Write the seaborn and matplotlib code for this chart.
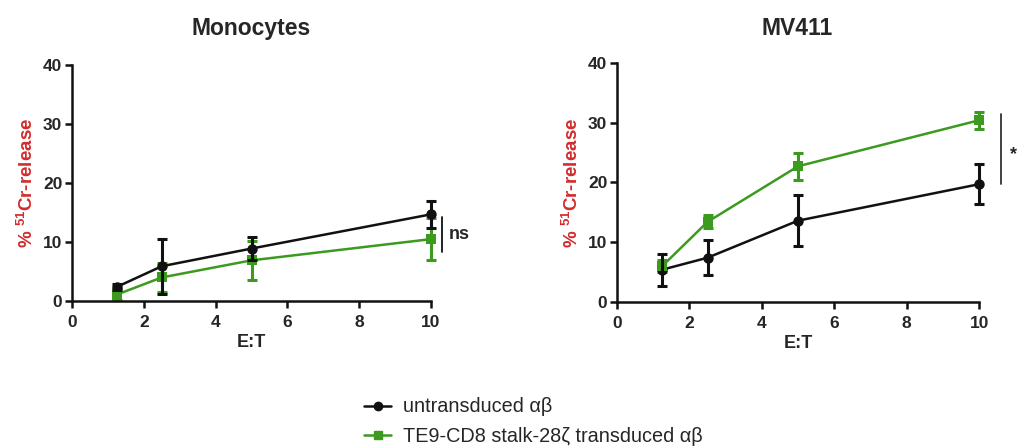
import numpy as np
import pandas as pd
import matplotlib
matplotlib.use("Agg")
import matplotlib.pyplot as plt
import seaborn as sns
from matplotlib.lines import Line2D

# E:T ratios
et_ratio = [1.25, 2.5, 5, 10]

# Monocytes
mono_untrans = [2.4, 5.9, 8.9, 14.7]
mono_untrans_sd = [0.5, 4.7, 2.0, 2.3]
mono_te9 = [1.1, 4.0, 6.9, 10.5]
mono_te9_sd = [1.0, 2.5, 3.3, 3.6]

# MV411
mv_untrans = [5.4, 7.4, 13.6, 19.7]
mv_untrans_sd = [2.7, 2.9, 4.3, 3.3]
mv_te9 = [6.0, 13.4, 22.7, 30.4]
mv_te9_sd = [1.0, 1.1, 2.3, 1.4]

group_names = ["untransduced αβ", "TE9-CD8 stalk-28ζ transduced αβ"]
panel_titles = ["Monocytes", "MV411"]
sig_labels = ["ns", "*"]

BLACK = "#111111"
GREEN = "#3c9a1e"
RED = "#d42b2b"

sns.set_style("ticks")
plt.rcParams['font.family'] = ['Liberation Sans', 'DejaVu Sans']
plt.rcParams['mathtext.default'] = 'regular'


def make_df(untrans, te9):
    return pd.DataFrame({
        "E:T": et_ratio * 2,
        "release": untrans + te9,
        "group": [group_names[0]] * 4 + [group_names[1]] * 4,
    })


def draw_panel(ax, untrans, untrans_sd, te9, te9_sd):
    df = make_df(untrans, te9)
    sns.lineplot(data=df, x="E:T", y="release", hue="group", style="group",
                 markers={group_names[0]: "o", group_names[1]: "s"}, dashes=False,
                 palette={group_names[0]: BLACK, group_names[1]: GREEN},
                 markersize=7.5, linewidth=1.8, markeredgewidth=0,
                 legend=False, ax=ax, zorder=3, clip_on=False)
    ax.errorbar(et_ratio, te9, yerr=te9_sd, fmt="none", ecolor=GREEN,
                elinewidth=2.2, capsize=3.5, capthick=2.2, zorder=2, clip_on=False)
    ax.errorbar(et_ratio, untrans, yerr=untrans_sd, fmt="none", ecolor=BLACK,
                elinewidth=2.2, capsize=3.5, capthick=2.2, zorder=4, clip_on=False)
    ax.set_xlim(0, 10)
    ax.set_ylim(0, 40)
    ax.set_xticks([0, 2, 4, 6, 8, 10])
    ax.set_yticks([0, 10, 20, 30, 40])
    for lbl in ax.get_xticklabels() + ax.get_yticklabels():
        lbl.set_fontweight("bold")
        lbl.set_fontsize(12.5)
    ax.tick_params(width=1.8, length=5, color=BLACK, pad=2)
    ax.tick_params(axis="x", pad=5)
    ax.set_xlabel("E:T", fontsize=13, fontweight="bold", labelpad=3)
    ax.set_ylabel("% $^{51}$Cr-release", fontsize=13.5, fontweight="bold", color=RED, labelpad=4)
    for side in ["left", "bottom"]:
        ax.spines[side].set_linewidth(1.8)
        ax.spines[side].set_color(BLACK)
    sns.despine(ax=ax)
    for coll in ax.collections + ax.lines:
        coll.set_clip_on(False)


fig = plt.figure(figsize=(10.17, 4.46), dpi=100)
ax1 = fig.add_axes([0.0708, 0.325, 0.353, 0.529])
ax2 = fig.add_axes([0.6067, 0.323, 0.356, 0.536])

draw_panel(ax1, mono_untrans, mono_untrans_sd, mono_te9, mono_te9_sd)
draw_panel(ax2, mv_untrans, mv_untrans_sd, mv_te9, mv_te9_sd)

fig.text(0.247, 0.935, panel_titles[0], fontsize=16.5, fontweight="bold", ha="center", va="center")
fig.text(0.784, 0.935, panel_titles[1], fontsize=16.5, fontweight="bold", ha="center", va="center")

# significance brackets
ax1.plot([10.3, 10.3], [8.3, 14.3], color=BLACK, lw=1.3, clip_on=False)
ax1.text(10.5, 11.2, sig_labels[0], fontsize=13, fontweight="bold", va="center", ha="left")
ax2.plot([10.6, 10.6], [19.8, 31.5], color="#333333", lw=1.3, clip_on=False)
ax2.text(10.85, 24.6, sig_labels[1], fontsize=13, fontweight="bold", va="center", ha="left")

handles = [
    Line2D([0], [0], color=BLACK, marker="o", markersize=6, lw=1.8),
    Line2D([0], [0], color=GREEN, marker="s", markersize=6, lw=1.8),
]
fig.legend(handles, group_names, loc="center left", bbox_to_anchor=(0.3406, 0.054),
           frameon=False, fontsize=14.3, handlelength=1.35, handletextpad=0.6,
           labelspacing=0.55)

fig.savefig("out.png", dpi=100)
